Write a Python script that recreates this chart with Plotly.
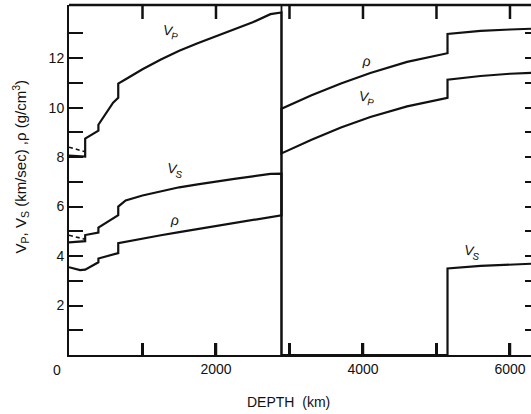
import plotly.graph_objects as go

# Earth model profiles versus depth (km); repeated depths mark discontinuities
vp_depth = [0, 220, 220, 400, 400, 600, 670, 670, 771, 1000, 1250, 1500, 1750, 2000,
            2250, 2500, 2741, 2891, 2891, 3300, 3700, 4100, 4600, 5150, 5150, 5600,
            6000, 6371]
vp_kms = [8.06, 8.02, 8.75, 9.07, 9.31, 10.2, 10.4, 10.97, 11.15, 11.55, 11.95, 12.3,
          12.6, 12.88, 13.15, 13.45, 13.78, 13.85, 8.15, 8.7, 9.2, 9.62, 10.05, 10.4,
          11.13, 11.28, 11.37, 11.42]

vs_depth = [0, 220, 220, 400, 400, 600, 670, 670, 771, 1000, 1250, 1500, 1750, 2000,
            2250, 2500, 2741, 2891, 2891, 5150, 5150, 5600, 6000, 6371]
vs_kms = [4.55, 4.6, 4.85, 4.95, 5.15, 5.5, 5.65, 6.0, 6.25, 6.45, 6.63, 6.78, 6.9,
          7.02, 7.12, 7.22, 7.32, 7.33, 0.0, 0.0, 3.5, 3.6, 3.65, 3.7]

rho_depth = [0, 150, 220, 400, 400, 600, 670, 670, 771, 1000, 1250, 1500, 1750, 2000,
             2250, 2500, 2741, 2891, 2891, 3300, 3700, 4100, 4600, 5150, 5150, 5600,
             6000, 6371]
rho_gcc = [3.55, 3.43, 3.45, 3.75, 3.9, 4.08, 4.12, 4.52, 4.58, 4.7, 4.84, 4.97, 5.09,
           5.2, 5.32, 5.44, 5.56, 5.65, 9.96, 10.5, 10.98, 11.4, 11.85, 12.2, 12.98,
           13.1, 13.16, 13.2]

# horizontally polarised velocities above 220 km (dashed)
aniso_depth = [0, 220]
vph_kms = [8.4, 8.22]
vsh_kms = [4.84, 4.68]

cmb_depth = 2891
y_ticks = list(range(0, 14))
y_labels = [str(v) if v % 2 == 0 and v > 0 else "" for v in y_ticks]
x_ticks = [0, 1000, 2000, 3000, 4000, 5000, 6000]
x_labels = ["", "", "2000", "", "4000", "", "6000"]

X_RANGE = [0, 6286]
Y_RANGE = [0, 14.15]
PLOT_H = 414 - 5 - 59  # plot-area height in px
INK = "#111111"
FONT = "Liberation Sans, Arial, Helvetica, sans-serif"

fig = go.Figure()
line = dict(color=INK, width=2.2)
for d, v in [(vp_depth, vp_kms), (vs_depth, vs_kms), (rho_depth, rho_gcc)]:
    fig.add_trace(go.Scatter(x=d, y=v, mode="lines", line=line, showlegend=False,
                             hoverinfo="skip"))
for v in (vph_kms, vsh_kms):
    fig.add_trace(go.Scatter(x=aniso_depth, y=v, mode="lines",
                             line=dict(color=INK, width=1.6, dash="4px,3px"),
                             showlegend=False, hoverinfo="skip"))
# carrier for the right-hand tick axis
fig.add_trace(go.Scatter(x=[None], y=[None], xaxis="x", yaxis="y2", showlegend=False,
                         hoverinfo="skip"))

# core-mantle boundary and the upper frame edge with its inward ticks
fig.add_shape(type="line", xref="x", yref="paper", x0=cmb_depth, x1=cmb_depth,
              y0=0, y1=1, line=dict(color=INK, width=1.8))
fig.add_shape(type="line", xref="paper", yref="paper", x0=0, x1=1, y0=1, y1=1,
              line=dict(color=INK, width=2.5))
for t in x_ticks[1:]:
    fig.add_shape(type="line", xref="x", yref="paper", x0=t, x1=t,
                  y0=1, y1=1 - 14 / PLOT_H, line=dict(color=INK, width=2.5))
for t in x_ticks[1:]:
    fig.add_shape(type="line", xref="x", yref="paper", x0=t, x1=t,
                  y0=0, y1=12 / PLOT_H, line=dict(color=INK, width=2.5))

curve_labels = [
    (1388, 13.06, "V<sub>P</sub>"),
    (1442, 7.46, "V<sub>S</sub>"),
    (1442, 5.44, "ρ"),
    (4054, 11.9, "ρ"),
    (4054, 10.4, "V<sub>P</sub>"),
    (5483, 4.15, "V<sub>S</sub>"),
]
for x, y, t in curve_labels:
    fig.add_annotation(x=x, y=y, text=t, showarrow=False, textangle=12,
                       xanchor="center", yanchor="middle",
                       font=dict(size=14, color=INK, family=FONT))

fig.add_annotation(xref="paper", yref="paper", x=-0.106, y=0.536,
                   xanchor="center", yanchor="middle",
                   text="V<sub>P</sub>, V<sub>S</sub> (km/sec) ,ρ (g/cm<sup>3</sup>)",
                   textangle=-90, showarrow=False,
                   font=dict(size=15, color=INK, family=FONT))
fig.add_annotation(xref="paper", yref="paper", x=0.476, y=-0.134,
                   xanchor="center", yanchor="middle",
                   text="DEPTH  (km)", showarrow=False,
                   font=dict(size=14, color=INK, family=FONT))
fig.add_annotation(xref="paper", yref="paper", x=-0.026, y=-0.043,
                   xanchor="center", yanchor="middle",
                   text="0", showarrow=False,
                   font=dict(size=14, color=INK, family=FONT))

fig.update_layout(
    width=531, height=414,
    margin=dict(l=69, r=0, t=5, b=59),
    paper_bgcolor="white", plot_bgcolor="white",
    font=dict(family=FONT, size=14, color=INK),
    xaxis=dict(range=X_RANGE, tickvals=x_ticks, ticktext=x_labels,
               ticks="inside", ticklen=12, tickwidth=2.5, tickcolor=INK,
               showline=True, linewidth=2, linecolor=INK, mirror=False,
               showgrid=False, zeroline=False),
    yaxis=dict(range=Y_RANGE, tickvals=y_ticks, ticktext=y_labels,
               ticks="inside", ticklen=14, tickwidth=2, tickcolor=INK,
               showline=True, linewidth=2, linecolor=INK, mirror=False,
               showgrid=False, zeroline=False),
    yaxis2=dict(range=Y_RANGE, overlaying="y", side="right", anchor="x",
                tickvals=list(range(1, 14)), ticks="inside", ticklen=6,
                tickwidth=2, tickcolor=INK, showticklabels=False,
                showline=False, showgrid=False, zeroline=False),
)

fig.write_html("out.html")
